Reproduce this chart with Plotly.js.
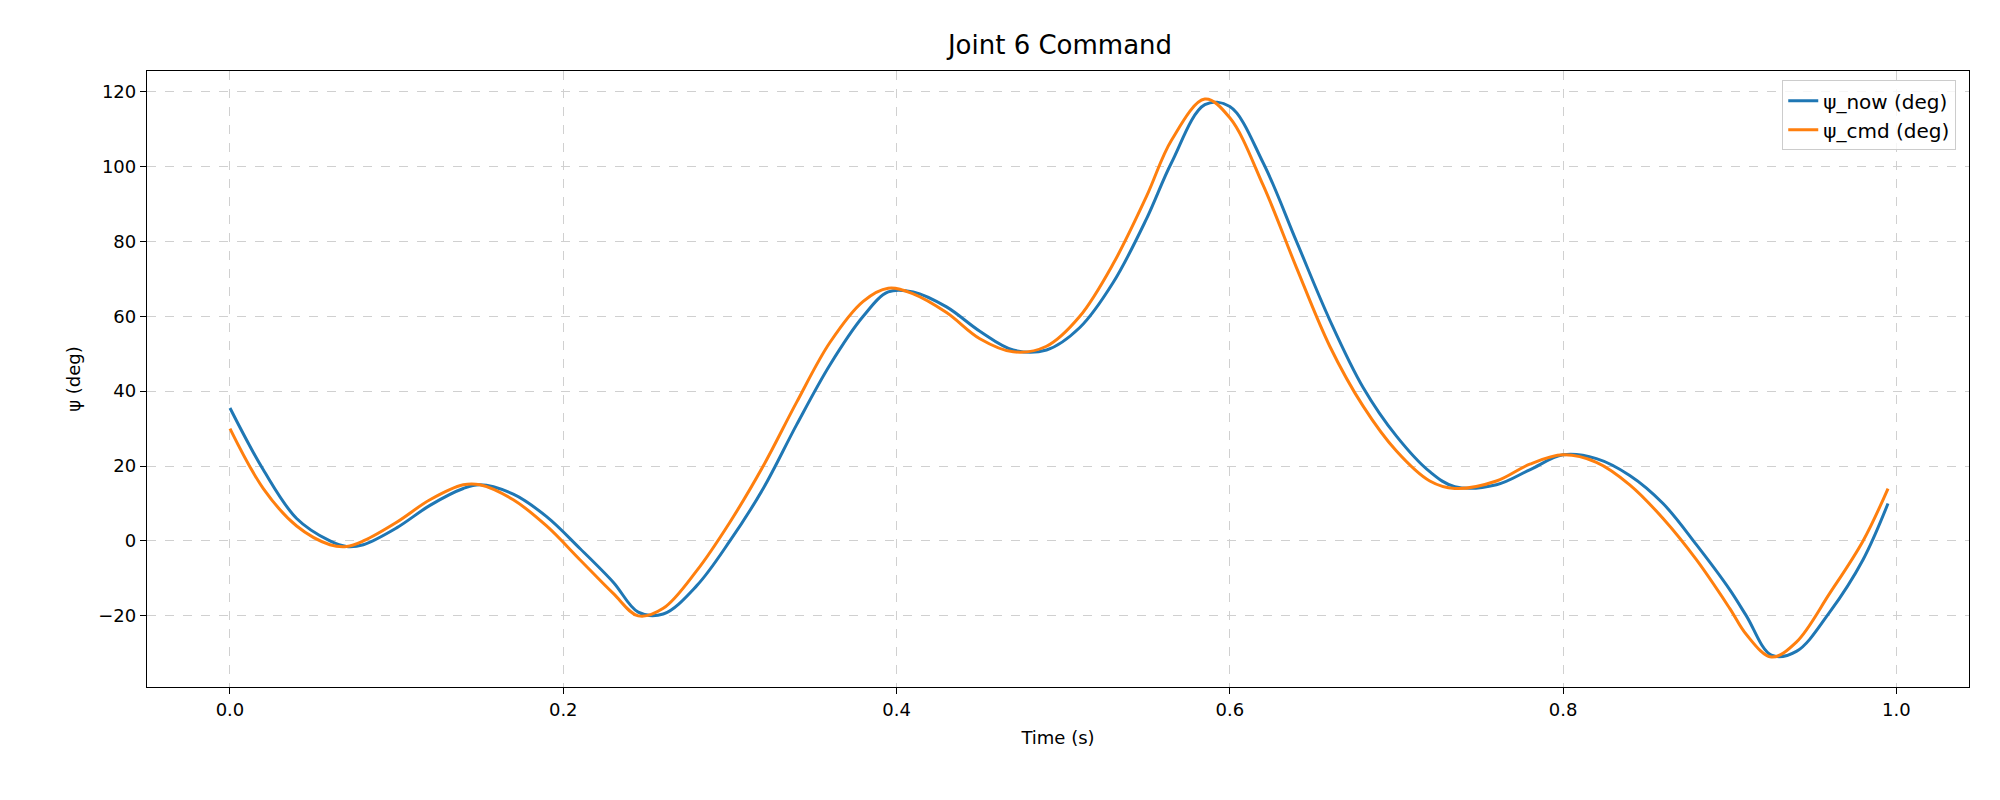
<!DOCTYPE html>
<html>
<head>
<meta charset="utf-8">
<script src="https://cdn.plot.ly/plotly-3.0.1.min.js"></script>
<style>body{margin:0;background:#fff}</style>
</head>
<body>
<div id="chart" style="width:2000px;height:800px"></div>
<script>
const t = [0, 0.02, 0.04, 0.06, 0.07, 0.08, 0.10, 0.12, 0.14, 0.15, 0.17, 0.19, 0.21, 0.23, 0.245, 0.26, 0.28, 0.30, 0.32, 0.34, 0.36, 0.38, 0.395, 0.41, 0.43, 0.45, 0.47, 0.49, 0.51, 0.53, 0.55, 0.565, 0.585, 0.60, 0.62, 0.64, 0.66, 0.68, 0.70, 0.72, 0.735, 0.76, 0.78, 0.80, 0.82, 0.84, 0.86, 0.88, 0.90, 0.91, 0.925, 0.94, 0.96, 0.98, 0.995];
const psiNow = [35.5, 19, 6, 0, -1.5, -1, 3.5, 9.5, 14, 15, 12.5, 6.5, -2, -11, -19, -19.5, -12, 0, 14, 31, 47, 60, 66.5, 66.5, 62.5, 56, 51, 51, 57, 69, 86, 101, 116.5, 116, 101, 80, 59, 41, 28, 18.5, 14.5, 15, 19, 23, 22, 17.5, 10, -1, -13, -20, -30.5, -29.5, -19, -5, 10];
const psiCmd = [30, 14, 4, -1, -1.5, 0, 5, 11, 15, 15, 11, 4, -5, -14, -20, -18, -8, 5, 20, 37, 53, 64, 67.5, 66, 61, 54, 50.5, 52, 60, 74, 92, 107, 118, 113, 95, 73, 52, 36, 24, 16, 14, 16, 20.5, 23, 21, 15, 6, -5, -18, -25, -31, -27, -14, 0, 14];

const font = {family: 'DejaVu Sans', size: 18, color: '#000'};
const axisBase = {
  showline: true, mirror: true, linecolor: '#000', linewidth: 1.3,
  ticks: 'outside', ticklen: 6, tickcolor: '#000',
  showgrid: true, gridcolor: '#d0d0d0', griddash: 'dash', gridwidth: 1,
  zeroline: false, tickfont: font
};

Plotly.newPlot('chart', [
  {x: t, y: psiNow, name: 'ψ_now (deg)', type: 'scatter', mode: 'lines',
   line: {color: '#1f77b4', width: 3, shape: 'spline'}},
  {x: t, y: psiCmd, name: 'ψ_cmd (deg)', type: 'scatter', mode: 'lines',
   line: {color: '#ff7f0e', width: 3, shape: 'spline'}}
], {
  width: 2000, height: 800,
  margin: {l: 147, r: 31, t: 71, b: 113},
  font: font,
  paper_bgcolor: '#fff', plot_bgcolor: '#fff',
  title: {text: 'Joint 6 Command', font: {family: 'DejaVu Sans', size: 26}, x: 0.53, xanchor: 'center', y: 0.955},
  xaxis: Object.assign({}, axisBase, {
    range: [-0.0498, 1.0436], tickvals: [0, 0.2, 0.4, 0.6, 0.8, 1.0],
    ticktext: ['0.0', '0.2', '0.4', '0.6', '0.8', '1.0'],
    title: {text: 'Time (s)', font: font, standoff: 12}
  }),
  yaxis: Object.assign({}, axisBase, {
    range: [-39, 125.5], tickvals: [-20, 0, 20, 40, 60, 80, 100, 120],
    ticktext: ['−20', '0', '20', '40', '60', '80', '100', '120'],
    title: {text: 'ψ (deg)', font: font, standoff: 12}
  }),
  legend: {x: 0.993, y: 0.985, xanchor: 'right', yanchor: 'top',
    bordercolor: '#ccc', borderwidth: 1, bgcolor: 'rgba(255,255,255,0.8)',
    font: {family: 'DejaVu Sans', size: 20}}
}, {displayModeBar: false});
</script>
</body>
</html>
